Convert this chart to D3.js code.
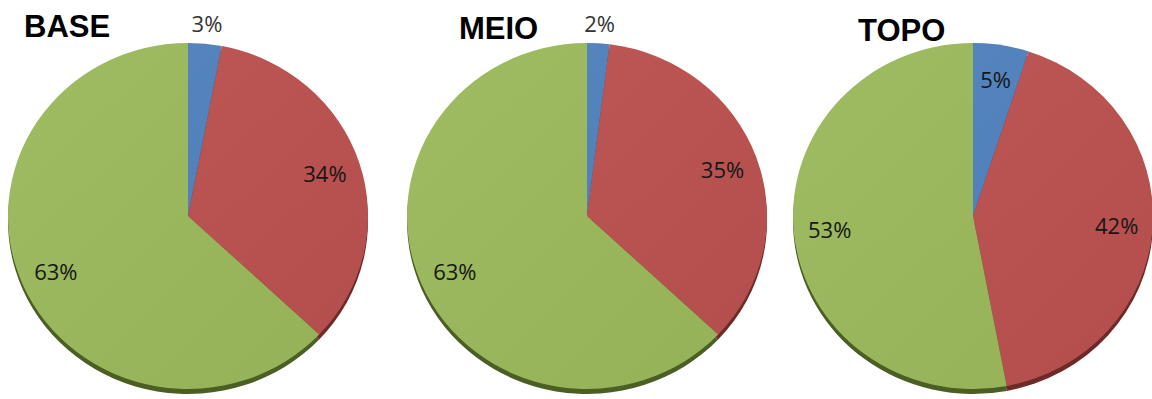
<!DOCTYPE html>
<html>
<head>
<meta charset="utf-8">
<script src="https://cdn.jsdelivr.net/npm/d3@7"></script>
<style>
  html, body { margin: 0; padding: 0; background: #ffffff; }
  svg { display: block; }
</style>
</head>
<body>
<svg id="chart" width="1152" height="399"></svg>
<script>
// Three pie charts: share of each category at the base, middle and top.
const charts = ["BASE", "MEIO", "TOPO"];
const categories = ["A", "B", "C"];
const baseValues = [3, 34, 63];
const meioValues = [2, 35, 63];
const topoValues = [5, 42, 53];
const seriesValues = [baseValues, meioValues, topoValues];

const faceColors = ["#4f81bd", "#bb514f", "#9bb95b"];
const sideColors = ["#2d4a6e", "#6e2a28", "#4b5e24"];

const svg = d3.select("#chart");

const rx = 180, ry = 173, depth = 5;
const centersX = [188, 587, 973];
const centerY = 216;
const titleX = [24, 459, 858];
const titleY = [37, 39, 41];

const pie = d3.pie().sort(null).value(d => d.value);
const arc = d3.arc().innerRadius(0).outerRadius(rx);

const color = d3.scaleOrdinal().domain(categories).range(faceColors);
const side = d3.scaleOrdinal().domain(categories).range(sideColors);

const defs = svg.append("defs");
const grad = defs.append("linearGradient")
  .attr("id", "sheen").attr("x1", "0").attr("y1", "0").attr("x2", "1").attr("y2", "1");
grad.append("stop").attr("offset", "0").attr("stop-color", "#ffffff").attr("stop-opacity", 0.05);
grad.append("stop").attr("offset", "1").attr("stop-color", "#000000").attr("stop-opacity", 0.04);

charts.forEach((name, i) => {
  const data = categories.map((c, k) => ({ cat: c, value: seriesValues[i][k] }));
  const arcs = pie(data);
  const total = d3.sum(data, d => d.value);
  const thin = d => d.data.value / total < 0.04;

  const g = svg.append("g").attr("transform", `translate(${centersX[i]},${centerY})`);

  // Thin side wall below the disc
  g.append("g")
    .attr("transform", `translate(0,${depth}) scale(1,${ry / rx})`)
    .selectAll("path")
    .data(arcs)
    .join("path")
    .attr("d", arc)
    .attr("fill", d => side(d.data.cat));

  // Top face
  const face = g.append("g").attr("transform", `scale(1,${ry / rx})`);
  face.selectAll("path")
    .data(arcs)
    .join("path")
    .attr("d", arc)
    .attr("fill", d => color(d.data.cat));
  face.append("circle").attr("r", rx).attr("fill", "url(#sheen)");

  // Percentage labels: inside the slice, or just outside when the slice is very thin
  const labelPos = d => {
    const a = (d.startAngle + d.endAngle) / 2;
    const f = thin(d) ? 1.12 : 0.8;
    return [Math.sin(a) * rx * f, -Math.cos(a) * ry * f];
  };
  g.selectAll("text.pct")
    .data(arcs)
    .join("text")
    .attr("class", "pct")
    .attr("x", d => labelPos(d)[0])
    .attr("y", d => labelPos(d)[1])
    .attr("text-anchor", "middle")
    .attr("dominant-baseline", "central")
    .attr("font-family", "'Open Sans', 'Noto Sans', sans-serif")
    .attr("font-size", 22)
    .attr("fill", d => thin(d) ? "#333333" : "#161616")
    .text(d => d3.format(".0%")(d.data.value / total));

  svg.append("text")
    .attr("x", titleX[i])
    .attr("y", titleY[i])
    .attr("font-family", "'Liberation Sans', Arial, sans-serif")
    .attr("font-weight", "bold")
    .attr("font-size", 31)
    .attr("fill", "#000000")
    .text(name);
});
</script>
</body>
</html>
